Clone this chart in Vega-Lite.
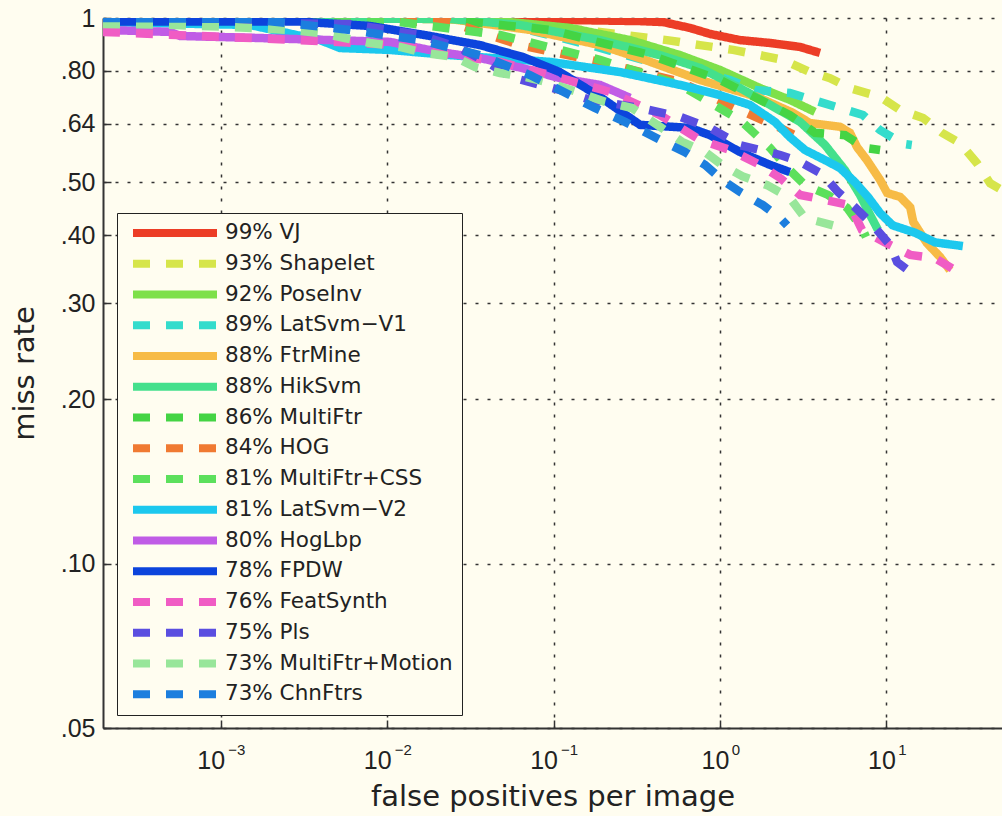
{
  "$schema": "https://vega.github.io/schema/vega-lite/v6.json",
  "width": 899,
  "height": 710,
  "autosize": {"type": "none"},
  "padding": {"left": 103, "top": 18, "right": 0, "bottom": 88},
  "background": "#fffdf0",
  "config": {"view": {"stroke": null}, "font": "DejaVu Sans"},
  "data": {"values": [
    {"method": "99% VJ", "fppi": 0.000196, "miss": 1.0},
    {"method": "99% VJ", "fppi": 0.0361, "miss": 0.996},
    {"method": "99% VJ", "fppi": 0.109, "miss": 0.992},
    {"method": "99% VJ", "fppi": 0.331, "miss": 0.987},
    {"method": "99% VJ", "fppi": 0.455, "miss": 0.983},
    {"method": "99% VJ", "fppi": 0.66, "miss": 0.959},
    {"method": "99% VJ", "fppi": 0.871, "miss": 0.935},
    {"method": "99% VJ", "fppi": 1.32, "miss": 0.911},
    {"method": "99% VJ", "fppi": 2.0, "miss": 0.9},
    {"method": "99% VJ", "fppi": 3.03, "miss": 0.885},
    {"method": "99% VJ", "fppi": 3.47, "miss": 0.874},
    {"method": "99% VJ", "fppi": 3.99, "miss": 0.863},

    {"method": "93% Shapelet", "fppi": 0.000196, "miss": 1.0},
    {"method": "93% Shapelet", "fppi": 0.0119, "miss": 0.996},
    {"method": "93% Shapelet", "fppi": 0.0628, "miss": 0.975},
    {"method": "93% Shapelet", "fppi": 0.19, "miss": 0.943},
    {"method": "93% Shapelet", "fppi": 0.48, "miss": 0.911},
    {"method": "93% Shapelet", "fppi": 0.758, "miss": 0.892},
    {"method": "93% Shapelet", "fppi": 1.2, "miss": 0.874},
    {"method": "93% Shapelet", "fppi": 1.74, "miss": 0.855},
    {"method": "93% Shapelet", "fppi": 2.39, "miss": 0.838},
    {"method": "93% Shapelet", "fppi": 3.47, "miss": 0.796},
    {"method": "93% Shapelet", "fppi": 4.58, "miss": 0.776},
    {"method": "93% Shapelet", "fppi": 6.04, "miss": 0.744},
    {"method": "93% Shapelet", "fppi": 9.16, "miss": 0.717},
    {"method": "93% Shapelet", "fppi": 12.1, "miss": 0.678},
    {"method": "93% Shapelet", "fppi": 16.6, "miss": 0.656},
    {"method": "93% Shapelet", "fppi": 21.6, "miss": 0.616},
    {"method": "93% Shapelet", "fppi": 27.7, "miss": 0.59},
    {"method": "93% Shapelet", "fppi": 35.0, "miss": 0.542},
    {"method": "93% Shapelet", "fppi": 42.0, "miss": 0.498},
    {"method": "93% Shapelet", "fppi": 55.3, "miss": 0.474},

    {"method": "92% PoseInv", "fppi": 0.000196, "miss": 1.0},
    {"method": "92% PoseInv", "fppi": 0.0157, "miss": 1.0},
    {"method": "92% PoseInv", "fppi": 0.0476, "miss": 0.987},
    {"method": "92% PoseInv", "fppi": 0.1255, "miss": 0.959},
    {"method": "92% PoseInv", "fppi": 0.288, "miss": 0.911},
    {"method": "92% PoseInv", "fppi": 0.575, "miss": 0.855},
    {"method": "92% PoseInv", "fppi": 1.0, "miss": 0.803},
    {"method": "92% PoseInv", "fppi": 1.74, "miss": 0.744},
    {"method": "92% PoseInv", "fppi": 2.63, "miss": 0.708},
    {"method": "92% PoseInv", "fppi": 3.72, "miss": 0.673},

    {"method": "89% LatSvm−V1", "fppi": 0.000196, "miss": 1.0},
    {"method": "89% LatSvm−V1", "fppi": 0.0238, "miss": 0.996},
    {"method": "89% LatSvm−V1", "fppi": 0.0628, "miss": 0.959},
    {"method": "89% LatSvm−V1", "fppi": 0.166, "miss": 0.892},
    {"method": "89% LatSvm−V1", "fppi": 0.38, "miss": 0.831},
    {"method": "89% LatSvm−V1", "fppi": 0.758, "miss": 0.796},
    {"method": "89% LatSvm−V1", "fppi": 1.15, "miss": 0.77},
    {"method": "89% LatSvm−V1", "fppi": 1.62, "miss": 0.738},
    {"method": "89% LatSvm−V1", "fppi": 2.63, "miss": 0.729},
    {"method": "89% LatSvm−V1", "fppi": 3.62, "miss": 0.708},
    {"method": "89% LatSvm−V1", "fppi": 5.26, "miss": 0.684},
    {"method": "89% LatSvm−V1", "fppi": 7.23, "miss": 0.664},
    {"method": "89% LatSvm−V1", "fppi": 9.16, "miss": 0.623},
    {"method": "89% LatSvm−V1", "fppi": 12.6, "miss": 0.588},
    {"method": "89% LatSvm−V1", "fppi": 14.2, "miss": 0.585},

    {"method": "88% FtrMine", "fppi": 0.000196, "miss": 1.0},
    {"method": "88% FtrMine", "fppi": 0.0238, "miss": 0.996},
    {"method": "88% FtrMine", "fppi": 0.0721, "miss": 0.951},
    {"method": "88% FtrMine", "fppi": 0.19, "miss": 0.892},
    {"method": "88% FtrMine", "fppi": 0.354, "miss": 0.838},
    {"method": "88% FtrMine", "fppi": 0.758, "miss": 0.77},
    {"method": "88% FtrMine", "fppi": 1.67, "miss": 0.717},
    {"method": "88% FtrMine", "fppi": 2.75, "miss": 0.67},
    {"method": "88% FtrMine", "fppi": 3.47, "miss": 0.642},
    {"method": "88% FtrMine", "fppi": 5.26, "miss": 0.632},
    {"method": "88% FtrMine", "fppi": 6.04, "miss": 0.616},
    {"method": "88% FtrMine", "fppi": 6.66, "miss": 0.58},
    {"method": "88% FtrMine", "fppi": 7.64, "miss": 0.549},
    {"method": "88% FtrMine", "fppi": 9.16, "miss": 0.505},
    {"method": "88% FtrMine", "fppi": 10.1, "miss": 0.478},
    {"method": "88% FtrMine", "fppi": 12.1, "miss": 0.47},
    {"method": "88% FtrMine", "fppi": 13.9, "miss": 0.45},
    {"method": "88% FtrMine", "fppi": 14.5, "miss": 0.423},
    {"method": "88% FtrMine", "fppi": 17.5, "miss": 0.387},
    {"method": "88% FtrMine", "fppi": 21.0, "miss": 0.365},
    {"method": "88% FtrMine", "fppi": 24.1, "miss": 0.345},

    {"method": "88% HikSvm", "fppi": 0.000196, "miss": 1.0},
    {"method": "88% HikSvm", "fppi": 0.0238, "miss": 0.996},
    {"method": "88% HikSvm", "fppi": 0.0628, "miss": 0.971},
    {"method": "88% HikSvm", "fppi": 0.19, "miss": 0.911},
    {"method": "88% HikSvm", "fppi": 0.436, "miss": 0.855},
    {"method": "88% HikSvm", "fppi": 0.758, "miss": 0.81},
    {"method": "88% HikSvm", "fppi": 1.32, "miss": 0.744},
    {"method": "88% HikSvm", "fppi": 2.0, "miss": 0.693},
    {"method": "88% HikSvm", "fppi": 3.03, "miss": 0.645},
    {"method": "88% HikSvm", "fppi": 4.28, "miss": 0.585},
    {"method": "88% HikSvm", "fppi": 5.64, "miss": 0.526},
    {"method": "88% HikSvm", "fppi": 6.94, "miss": 0.474},
    {"method": "88% HikSvm", "fppi": 7.97, "miss": 0.436},
    {"method": "88% HikSvm", "fppi": 8.9, "miss": 0.409},

    {"method": "86% MultiFtr", "fppi": 0.000196, "miss": 0.996},
    {"method": "86% MultiFtr", "fppi": 0.0238, "miss": 0.992},
    {"method": "86% MultiFtr", "fppi": 0.0951, "miss": 0.951},
    {"method": "86% MultiFtr", "fppi": 0.38, "miss": 0.855},
    {"method": "86% MultiFtr", "fppi": 1.0, "miss": 0.77},
    {"method": "86% MultiFtr", "fppi": 1.74, "miss": 0.708},
    {"method": "86% MultiFtr", "fppi": 2.63, "miss": 0.664},
    {"method": "86% MultiFtr", "fppi": 3.72, "miss": 0.616},
    {"method": "86% MultiFtr", "fppi": 5.64, "miss": 0.61},
    {"method": "86% MultiFtr", "fppi": 7.44, "miss": 0.578},
    {"method": "86% MultiFtr", "fppi": 9.16, "miss": 0.573},

    {"method": "84% HOG", "fppi": 0.000196, "miss": 0.996},
    {"method": "84% HOG", "fppi": 0.0238, "miss": 0.983},
    {"method": "84% HOG", "fppi": 0.0628, "miss": 0.892},
    {"method": "84% HOG", "fppi": 0.19, "miss": 0.831},
    {"method": "84% HOG", "fppi": 0.575, "miss": 0.764},
    {"method": "84% HOG", "fppi": 1.32, "miss": 0.678},
    {"method": "84% HOG", "fppi": 2.3, "miss": 0.629},
    {"method": "84% HOG", "fppi": 3.03, "miss": 0.603},

    {"method": "81% MultiFtr+CSS", "fppi": 0.000196, "miss": 0.992},
    {"method": "81% MultiFtr+CSS", "fppi": 0.0119, "miss": 0.983},
    {"method": "81% MultiFtr+CSS", "fppi": 0.0476, "miss": 0.931},
    {"method": "81% MultiFtr+CSS", "fppi": 0.19, "miss": 0.838},
    {"method": "81% MultiFtr+CSS", "fppi": 0.575, "miss": 0.754},
    {"method": "81% MultiFtr+CSS", "fppi": 1.32, "miss": 0.65},
    {"method": "81% MultiFtr+CSS", "fppi": 2.0, "miss": 0.578},
    {"method": "81% MultiFtr+CSS", "fppi": 2.63, "miss": 0.526},
    {"method": "81% MultiFtr+CSS", "fppi": 3.24, "miss": 0.494},
    {"method": "81% MultiFtr+CSS", "fppi": 4.46, "miss": 0.474},
    {"method": "81% MultiFtr+CSS", "fppi": 5.8, "miss": 0.449},
    {"method": "81% MultiFtr+CSS", "fppi": 7.13, "miss": 0.412},
    {"method": "81% MultiFtr+CSS", "fppi": 7.54, "miss": 0.397},

    {"method": "81% LatSvm−V2", "fppi": 0.000196, "miss": 0.983},
    {"method": "81% LatSvm−V2", "fppi": 0.0015, "miss": 0.971},
    {"method": "81% LatSvm−V2", "fppi": 0.00395, "miss": 0.911},
    {"method": "81% LatSvm−V2", "fppi": 0.0052, "miss": 0.881},
    {"method": "81% LatSvm−V2", "fppi": 0.0104, "miss": 0.874},
    {"method": "81% LatSvm−V2", "fppi": 0.0238, "miss": 0.855},
    {"method": "81% LatSvm−V2", "fppi": 0.0951, "miss": 0.831},
    {"method": "81% LatSvm−V2", "fppi": 0.251, "miss": 0.796},
    {"method": "81% LatSvm−V2", "fppi": 0.575, "miss": 0.754},
    {"method": "81% LatSvm−V2", "fppi": 1.0, "miss": 0.722},
    {"method": "81% LatSvm−V2", "fppi": 1.51, "miss": 0.693},
    {"method": "81% LatSvm−V2", "fppi": 2.14, "miss": 0.645},
    {"method": "81% LatSvm−V2", "fppi": 2.63, "miss": 0.605},
    {"method": "81% LatSvm−V2", "fppi": 3.24, "miss": 0.573},
    {"method": "81% LatSvm−V2", "fppi": 4.28, "miss": 0.549},
    {"method": "81% LatSvm−V2", "fppi": 5.26, "miss": 0.531},
    {"method": "81% LatSvm−V2", "fppi": 6.48, "miss": 0.5},
    {"method": "81% LatSvm−V2", "fppi": 7.75, "miss": 0.47},
    {"method": "81% LatSvm−V2", "fppi": 9.16, "miss": 0.439},
    {"method": "81% LatSvm−V2", "fppi": 10.9, "miss": 0.417},
    {"method": "81% LatSvm−V2", "fppi": 14.9, "miss": 0.404},
    {"method": "81% LatSvm−V2", "fppi": 19.6, "miss": 0.388},
    {"method": "81% LatSvm−V2", "fppi": 28.8, "miss": 0.382},

    {"method": "80% HogLbp", "fppi": 0.000196, "miss": 0.951},
    {"method": "80% HogLbp", "fppi": 0.000495, "miss": 0.943},
    {"method": "80% HogLbp", "fppi": 0.000569, "miss": 0.927},
    {"method": "80% HogLbp", "fppi": 0.00172, "miss": 0.919},
    {"method": "80% HogLbp", "fppi": 0.00453, "miss": 0.911},
    {"method": "80% HogLbp", "fppi": 0.0104, "miss": 0.904},
    {"method": "80% HogLbp", "fppi": 0.0207, "miss": 0.866},
    {"method": "80% HogLbp", "fppi": 0.0361, "miss": 0.845},
    {"method": "80% HogLbp", "fppi": 0.0721, "miss": 0.803},
    {"method": "80% HogLbp", "fppi": 0.109, "miss": 0.776},
    {"method": "80% HogLbp", "fppi": 0.19, "miss": 0.754},
    {"method": "80% HogLbp", "fppi": 0.288, "miss": 0.714},

    {"method": "78% FPDW", "fppi": 0.000196, "miss": 0.985},
    {"method": "78% FPDW", "fppi": 0.00299, "miss": 0.985},
    {"method": "78% FPDW", "fppi": 0.00788, "miss": 0.967},
    {"method": "78% FPDW", "fppi": 0.0181, "miss": 0.927},
    {"method": "78% FPDW", "fppi": 0.0361, "miss": 0.892},
    {"method": "78% FPDW", "fppi": 0.0655, "miss": 0.848},
    {"method": "78% FPDW", "fppi": 0.109, "miss": 0.796},
    {"method": "78% FPDW", "fppi": 0.19, "miss": 0.717},
    {"method": "78% FPDW", "fppi": 0.331, "miss": 0.637},
    {"method": "78% FPDW", "fppi": 0.66, "miss": 0.629},
    {"method": "78% FPDW", "fppi": 0.871, "miss": 0.61},
    {"method": "78% FPDW", "fppi": 1.32, "miss": 0.568},
    {"method": "78% FPDW", "fppi": 2.0, "miss": 0.538},
    {"method": "78% FPDW", "fppi": 2.63, "miss": 0.522},

    {"method": "76% FeatSynth", "fppi": 0.000196, "miss": 0.943},
    {"method": "76% FeatSynth", "fppi": 0.00075, "miss": 0.927},
    {"method": "76% FeatSynth", "fppi": 0.00299, "miss": 0.911},
    {"method": "76% FeatSynth", "fppi": 0.0119, "miss": 0.892},
    {"method": "76% FeatSynth", "fppi": 0.0238, "miss": 0.855},
    {"method": "76% FeatSynth", "fppi": 0.0476, "miss": 0.831},
    {"method": "76% FeatSynth", "fppi": 0.0951, "miss": 0.786},
    {"method": "76% FeatSynth", "fppi": 0.218, "miss": 0.732},
    {"method": "76% FeatSynth", "fppi": 0.436, "miss": 0.664},
    {"method": "76% FeatSynth", "fppi": 0.758, "miss": 0.598},
    {"method": "76% FeatSynth", "fppi": 1.15, "miss": 0.573},
    {"method": "76% FeatSynth", "fppi": 1.74, "miss": 0.538},
    {"method": "76% FeatSynth", "fppi": 2.3, "miss": 0.509},
    {"method": "76% FeatSynth", "fppi": 3.03, "miss": 0.474},
    {"method": "76% FeatSynth", "fppi": 4.28, "miss": 0.464},
    {"method": "76% FeatSynth", "fppi": 6.04, "miss": 0.454},
    {"method": "76% FeatSynth", "fppi": 7.13, "miss": 0.409},
    {"method": "76% FeatSynth", "fppi": 9.81, "miss": 0.388},
    {"method": "76% FeatSynth", "fppi": 13.9, "miss": 0.368},
    {"method": "76% FeatSynth", "fppi": 19.6, "miss": 0.363},
    {"method": "76% FeatSynth", "fppi": 25.8, "miss": 0.345},

    {"method": "75% Pls", "fppi": 0.000196, "miss": 0.983},
    {"method": "75% Pls", "fppi": 0.00597, "miss": 0.975},
    {"method": "75% Pls", "fppi": 0.0157, "miss": 0.931},
    {"method": "75% Pls", "fppi": 0.0274, "miss": 0.881},
    {"method": "75% Pls", "fppi": 0.0415, "miss": 0.824},
    {"method": "75% Pls", "fppi": 0.0547, "miss": 0.78},
    {"method": "75% Pls", "fppi": 0.109, "miss": 0.738},
    {"method": "75% Pls", "fppi": 0.166, "miss": 0.708},
    {"method": "75% Pls", "fppi": 0.331, "miss": 0.684},
    {"method": "75% Pls", "fppi": 0.575, "miss": 0.659},
    {"method": "75% Pls", "fppi": 0.871, "miss": 0.629},
    {"method": "75% Pls", "fppi": 1.32, "miss": 0.585},
    {"method": "75% Pls", "fppi": 2.3, "miss": 0.561},
    {"method": "75% Pls", "fppi": 3.03, "miss": 0.545},
    {"method": "75% Pls", "fppi": 4.1, "miss": 0.518},
    {"method": "75% Pls", "fppi": 5.12, "miss": 0.48},
    {"method": "75% Pls", "fppi": 6.48, "miss": 0.45},
    {"method": "75% Pls", "fppi": 8.19, "miss": 0.419},
    {"method": "75% Pls", "fppi": 10.5, "miss": 0.384},
    {"method": "75% Pls", "fppi": 11.6, "miss": 0.357},
    {"method": "75% Pls", "fppi": 15.5, "miss": 0.334},

    {"method": "73% MultiFtr+Motion", "fppi": 0.000196, "miss": 0.975},
    {"method": "73% MultiFtr+Motion", "fppi": 0.000431, "miss": 0.973},
    {"method": "73% MultiFtr+Motion", "fppi": 0.00114, "miss": 0.963},
    {"method": "73% MultiFtr+Motion", "fppi": 0.00261, "miss": 0.951},
    {"method": "73% MultiFtr+Motion", "fppi": 0.00395, "miss": 0.939},
    {"method": "73% MultiFtr+Motion", "fppi": 0.00557, "miss": 0.919},
    {"method": "73% MultiFtr+Motion", "fppi": 0.00788, "miss": 0.9},
    {"method": "73% MultiFtr+Motion", "fppi": 0.0119, "miss": 0.885},
    {"method": "73% MultiFtr+Motion", "fppi": 0.0169, "miss": 0.863},
    {"method": "73% MultiFtr+Motion", "fppi": 0.0255, "miss": 0.848},
    {"method": "73% MultiFtr+Motion", "fppi": 0.0337, "miss": 0.813},
    {"method": "73% MultiFtr+Motion", "fppi": 0.0476, "miss": 0.793},
    {"method": "73% MultiFtr+Motion", "fppi": 0.0673, "miss": 0.78},
    {"method": "73% MultiFtr+Motion", "fppi": 0.0887, "miss": 0.764},
    {"method": "73% MultiFtr+Motion", "fppi": 0.144, "miss": 0.729},
    {"method": "73% MultiFtr+Motion", "fppi": 0.204, "miss": 0.702},
    {"method": "73% MultiFtr+Motion", "fppi": 0.296, "miss": 0.684},
    {"method": "73% MultiFtr+Motion", "fppi": 0.436, "miss": 0.632},
    {"method": "73% MultiFtr+Motion", "fppi": 0.591, "miss": 0.593},
    {"method": "73% MultiFtr+Motion", "fppi": 0.813, "miss": 0.568},
    {"method": "73% MultiFtr+Motion", "fppi": 1.03, "miss": 0.538},
    {"method": "73% MultiFtr+Motion", "fppi": 1.36, "miss": 0.513},
    {"method": "73% MultiFtr+Motion", "fppi": 1.92, "miss": 0.494},
    {"method": "73% MultiFtr+Motion", "fppi": 2.63, "miss": 0.468},
    {"method": "73% MultiFtr+Motion", "fppi": 3.24, "miss": 0.43},
    {"method": "73% MultiFtr+Motion", "fppi": 4.78, "miss": 0.417},

    {"method": "73% ChnFtrs", "fppi": 0.000196, "miss": 1.0},
    {"method": "73% ChnFtrs", "fppi": 0.0015, "miss": 0.996},
    {"method": "73% ChnFtrs", "fppi": 0.00597, "miss": 0.951},
    {"method": "73% ChnFtrs", "fppi": 0.0157, "miss": 0.911},
    {"method": "73% ChnFtrs", "fppi": 0.0361, "miss": 0.855},
    {"method": "73% ChnFtrs", "fppi": 0.0721, "miss": 0.786},
    {"method": "73% ChnFtrs", "fppi": 0.109, "miss": 0.738},
    {"method": "73% ChnFtrs", "fppi": 0.177, "miss": 0.684},
    {"method": "73% ChnFtrs", "fppi": 0.269, "miss": 0.645},
    {"method": "73% ChnFtrs", "fppi": 0.436, "miss": 0.598},
    {"method": "73% ChnFtrs", "fppi": 0.616, "miss": 0.568},
    {"method": "73% ChnFtrs", "fppi": 0.813, "miss": 0.538},
    {"method": "73% ChnFtrs", "fppi": 1.03, "miss": 0.505},
    {"method": "73% ChnFtrs", "fppi": 1.32, "miss": 0.48},
    {"method": "73% ChnFtrs", "fppi": 1.81, "miss": 0.454},
    {"method": "73% ChnFtrs", "fppi": 2.3, "miss": 0.43},
    {"method": "73% ChnFtrs", "fppi": 2.53, "miss": 0.417}
  ]},
  "layer": [
    {
      "mark": {"type": "line", "strokeWidth": 8.5, "clip": true, "strokeCap": "butt"},
      "encoding": {
        "x": {
          "field": "fppi", "type": "quantitative",
          "scale": {"type": "log", "domain": [0.000196, 49.5], "nice": false},
          "axis": {
            "orient": "bottom",
            "values": [0.001, 0.01, 0.1, 1, 10],
            "labelExpr": "'10'",
            "title": "false positives per image",
            "titleFont": "DejaVu Sans", "titleFontSize": 29, "titleFontWeight": "normal", "titleColor": "#222",
            "titlePadding": 9,
            "labelFont": "Liberation Sans", "labelFontSize": 25, "labelColor": "#222",
            "labelOffset": {"condition": {"test": "datum.value < 1", "value": -10}, "value": -5},
            "labelPadding": 28, "labelFlush": false, "labelOverlap": false,
            "tickSize": -8, "tickColor": "#333", "tickWidth": 1.5,
            "grid": true, "gridColor": "#333", "gridDash": [3, 9], "gridWidth": 1.5,
            "domainColor": "#333", "domainWidth": 2
          }
        },
        "y": {
          "field": "miss", "type": "quantitative",
          "scale": {"type": "log", "domain": [0.05, 1], "nice": false},
          "axis": {
            "orient": "left",
            "values": [0.05, 0.1, 0.2, 0.3, 0.4, 0.5, 0.64, 0.8, 1],
            "labelExpr": "datum.value >= 1 ? '1' : replace(format(datum.value, '.2f'), '0.', '.')",
            "title": "miss rate",
            "titleFont": "DejaVu Sans", "titleFontSize": 29, "titleFontWeight": "normal", "titleColor": "#222",
            "titlePadding": 21,
            "labelFont": "Liberation Sans", "labelFontSize": 25, "labelColor": "#222",
            "labelPadding": 16, "labelFlush": false, "labelOverlap": false,
            "tickSize": -8, "tickColor": "#333", "tickWidth": 1.5,
            "grid": true, "gridColor": "#333", "gridDash": [3, 9], "gridWidth": 1.5,
            "domainColor": "#333", "domainWidth": 2
          }
        },
        "color": {
          "field": "method", "type": "nominal",
          "scale": {
            "domain": ["99% VJ", "93% Shapelet", "92% PoseInv", "89% LatSvm−V1", "88% FtrMine", "88% HikSvm", "86% MultiFtr", "84% HOG", "81% MultiFtr+CSS", "81% LatSvm−V2", "80% HogLbp", "78% FPDW", "76% FeatSynth", "75% Pls", "73% MultiFtr+Motion", "73% ChnFtrs"],
            "range": ["#ec3d26", "#d6e54a", "#7ee04a", "#34dccc", "#f7bb46", "#44e08c", "#44d444", "#f07a32", "#5ce05c", "#1cc8ee", "#c05ce6", "#0c44dc", "#f05cc4", "#5a4ee0", "#98e69a", "#1c7ede"]
          },
          "legend": {
            "title": null, "orient": "bottom-left", "offset": 13.5,
            "symbolType": "stroke", "symbolSize": 7056, "symbolStrokeWidth": 8,
            "clipHeight": 22, "rowPadding": 8.75, "padding": 9,
            "symbolOffset": 3, "labelOffset": 4,
            "labelFont": "DejaVu Sans", "labelFontSize": 21.5, "labelColor": "#222", "labelLimit": 400,
            "strokeColor": "#222", "fillColor": "#fffdf0"
          }
        },
        "strokeDash": {
          "field": "method", "type": "nominal",
          "scale": {
            "domain": ["99% VJ", "93% Shapelet", "92% PoseInv", "89% LatSvm−V1", "88% FtrMine", "88% HikSvm", "86% MultiFtr", "84% HOG", "81% MultiFtr+CSS", "81% LatSvm−V2", "80% HogLbp", "78% FPDW", "76% FeatSynth", "75% Pls", "73% MultiFtr+Motion", "73% ChnFtrs"],
            "range": [[1, 0], [17, 16], [1, 0], [17, 16], [1, 0], [1, 0], [17, 16], [17, 16], [17, 16], [1, 0], [1, 0], [1, 0], [17, 16], [17, 16], [17, 16], [17, 16]]
          },
          "legend": {
            "title": null, "orient": "bottom-left", "offset": 13.5,
            "symbolType": "stroke", "symbolSize": 7056, "symbolStrokeWidth": 8,
            "clipHeight": 22, "rowPadding": 8.75, "padding": 9,
            "symbolOffset": 3, "labelOffset": 4,
            "labelFont": "DejaVu Sans", "labelFontSize": 21.5, "labelColor": "#222", "labelLimit": 400,
            "strokeColor": "#222", "fillColor": "#fffdf0"
          }
        }
      }
    },
    {
      "mark": {"type": "point", "opacity": 0, "size": 1},
      "encoding": {
        "x": {
          "field": "fppi", "type": "quantitative",
          "axis": {
            "orient": "bottom",
            "values": [0.001, 0.01, 0.1, 1, 10],
            "labelExpr": "(datum.value < 1 ? '−' : '') + format(abs(round(log(datum.value) / LN10)), 'd')",
            "title": null, "grid": false, "ticks": false, "domain": false,
            "labelFont": "Liberation Sans", "labelFontSize": 15, "labelColor": "#222",
            "labelOffset": 15.5, "labelPadding": 14, "labelFlush": false, "labelOverlap": false
          }
        }
      }
    }
  ],
  "resolve": {"axis": {"x": "independent"}}
}
